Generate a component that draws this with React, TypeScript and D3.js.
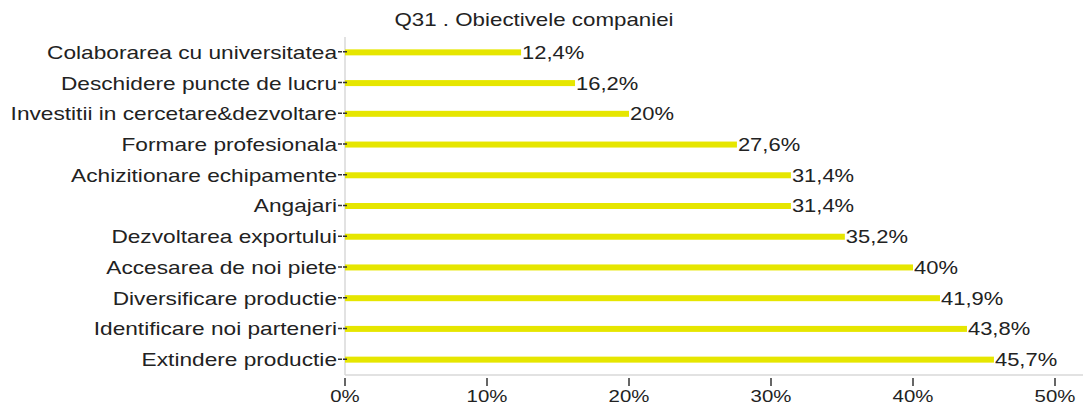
import { useEffect, useRef } from 'react';
import * as d3 from 'd3';

const categories = [
  'Colaborarea cu universitatea',
  'Deschidere puncte de lucru',
  'Investitii in cercetare&dezvoltare',
  'Formare profesionala',
  'Achizitionare echipamente',
  'Angajari',
  'Dezvoltarea exportului',
  'Accesarea de noi piete',
  'Diversificare productie',
  'Identificare noi parteneri',
  'Extindere productie',
];
const values = [12.4, 16.2, 20, 27.6, 31.4, 31.4, 35.2, 40, 41.9, 43.8, 45.7];
const labels = ['12,4%', '16,2%', '20%', '27,6%', '31,4%', '31,4%', '35,2%', '40%', '41,9%', '43,8%', '45,7%'];
const xTicks = [0, 10, 20, 30, 40, 50];

// text in the original is rendered a bit wide
const stretch = 1.26;

export default function App() {
  const ref = useRef<SVGSVGElement>(null);

  useEffect(() => {
    if (!ref.current) return;
    const svg = d3.select(ref.current);
    svg.selectAll('*').remove();

    const left = 345;
    const top = 37;
    const bottom = 375;
    const font = 'Liberation Sans, Arial, sans-serif';
    const at = (px: number, py: number, s = stretch) => `translate(${px},${py}) scale(${s},1)`;

    const x = d3.scaleLinear().domain([0, 50]).range([left, 1055]);
    const y = d3.scaleBand().domain(categories).range([top, bottom]);

    svg.append('text')
      .attr('transform', at(534, 26, 1.24))
      .attr('text-anchor', 'middle')
      .attr('font-family', font)
      .attr('font-size', 18)
      .attr('fill', '#222')
      .text('Q31 . Obiectivele companiei');

    // axis lines
    svg.append('line')
      .attr('x1', left).attr('x2', left)
      .attr('y1', top).attr('y2', bottom)
      .attr('stroke', '#d8d8d8').attr('stroke-width', 1.5);
    svg.append('line')
      .attr('x1', left).attr('x2', 1083)
      .attr('y1', bottom).attr('y2', bottom)
      .attr('stroke', '#d8d8d8').attr('stroke-width', 1.5);

    // x ticks
    const xg = svg.append('g');
    xg.selectAll('line')
      .data(xTicks)
      .enter()
      .append('line')
      .attr('x1', d => x(d)).attr('x2', d => x(d))
      .attr('y1', 378).attr('y2', 386)
      .attr('stroke', '#333').attr('stroke-width', 1.5);
    xg.selectAll('text')
      .data(xTicks)
      .enter()
      .append('text')
      .attr('transform', d => at(x(d), 402, 1.2))
      .attr('text-anchor', 'middle')
      .attr('font-family', font)
      .attr('font-size', 17)
      .attr('fill', '#222')
      .text(d => `${d}%`);

    const rows = svg.append('g')
      .selectAll('g')
      .data(categories)
      .enter()
      .append('g')
      .attr('transform', d => `translate(0,${(y(d) as number) + y.bandwidth() / 2})`);

    rows.append('rect')
      .attr('x', left)
      .attr('y', -3)
      .attr('width', (d, i) => x(values[i]) - left)
      .attr('height', 6)
      .attr('fill', '#e6e600');

    rows.append('line')
      .attr('x1', left - 7).attr('x2', left + 2)
      .attr('y1', -0.5).attr('y2', -0.5)
      .attr('stroke', '#333').attr('stroke-width', 1.5)
      .attr('stroke-dasharray', '4,1');

    rows.append('text')
      .attr('transform', at(left - 8, 0))
      .attr('dy', '0.36em')
      .attr('text-anchor', 'end')
      .attr('font-family', font)
      .attr('font-size', 18)
      .attr('fill', '#222')
      .text(d => d);

    rows.append('text')
      .attr('transform', (d, i) => at(x(values[i]) + 1, 0, 1.22))
      .attr('dy', '0.36em')
      .attr('font-family', font)
      .attr('font-size', 18)
      .attr('fill', '#222')
      .text((d, i) => labels[i]);
  }, []);

  return (
    <svg
      ref={ref}
      width={1083}
      height={408}
      style={{ position: 'absolute', left: 0, top: 0, background: '#fff' }}
    />
  );
}
